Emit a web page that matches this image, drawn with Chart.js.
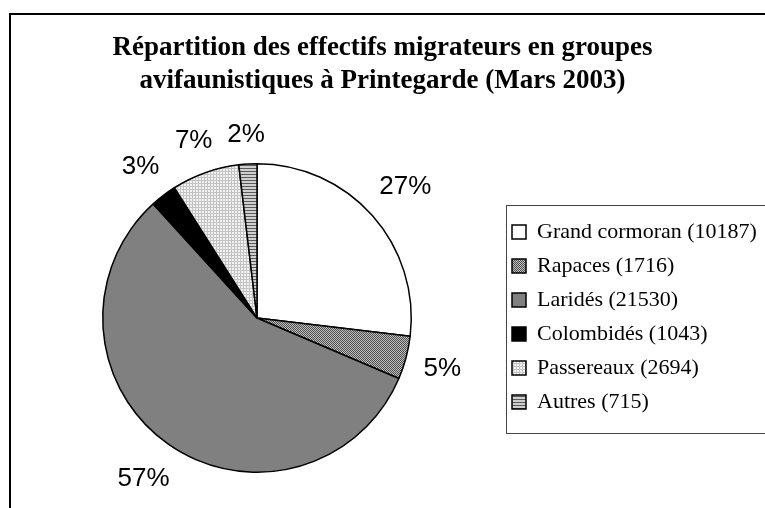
<!DOCTYPE html>
<html>
<head>
<meta charset="utf-8">
<script src="https://cdn.jsdelivr.net/npm/chart.js@4/dist/chart.umd.min.js"></script>
<style>
  html, body { margin: 0; padding: 0; background: #fff; }
  canvas { display: block; }
</style>
</head>
<body>
<canvas id="myChart" width="765" height="508"></canvas>
<script>
// Données
const groupes = ['Grand cormoran', 'Rapaces', 'Laridés', 'Colombidés', 'Passereaux', 'Autres'];
const effectifs = [10187, 1716, 21530, 1043, 2694, 715];
const titre = ['Répartition des effectifs migrateurs en groupes', 'avifaunistiques à Printegarde (Mars 2003)'];

// petits motifs de remplissage (comme dans Excel)
function makePattern(size, draw) {
    const c = document.createElement('canvas');
    c.width = size; c.height = size;
    const g = c.getContext('2d');
    draw(g);
    return document.getElementById('myChart').getContext('2d').createPattern(c, 'repeat');
}

const motifRapaces = makePattern(2, g => {
    g.fillStyle = '#bdbdbd'; g.fillRect(0, 0, 2, 2);
    g.fillStyle = '#505050'; g.fillRect(0, 0, 1, 1); g.fillRect(1, 1, 1, 1);
});
const motifPassereaux = makePattern(3, g => {
    g.fillStyle = '#f2f2f2'; g.fillRect(0, 0, 3, 3);
    g.fillStyle = '#c4c4c4'; g.fillRect(0, 0, 3, 1); g.fillRect(0, 0, 1, 3);
});
const motifAutres = makePattern(3, g => {
    g.fillStyle = '#cfcfcf'; g.fillRect(0, 0, 3, 3);
    g.fillStyle = '#5a5a5a'; g.fillRect(0, 0, 3, 1);
});

const couleurs = ['#ffffff', motifRapaces, '#808080', '#000000', motifPassereaux, motifAutres];

const total = effectifs.reduce((a, b) => a + b, 0);

// fond blanc + cadre extérieur + cadre de la légende
const cadrePlugin = {
    id: 'cadre',
    beforeDraw(chart) {
        const ctx = chart.ctx;
        ctx.save();
        ctx.fillStyle = '#fff';
        ctx.fillRect(0, 0, chart.width, chart.height);
        ctx.strokeStyle = '#000';
        ctx.lineWidth = 2;
        ctx.beginPath();
        ctx.moveTo(10, chart.height + 2);
        ctx.lineTo(10, 14);
        ctx.lineTo(chart.width + 2, 14);
        ctx.stroke();
        ctx.restore();
    },
    afterLayout(chart) {
        // place le camembert et la légende comme dans l'original
        chart.chartArea = { left: 102, top: 163, right: 412, bottom: 473, width: 310, height: 310 };
        const lg = chart.legend;
        const w = lg.width, h = lg.height;
        lg.left = 500; lg.top = 209;
        lg.right = lg.left + w; lg.bottom = lg.top + h;
    },
    afterDraw(chart) {
        const ctx = chart.ctx;
        ctx.save();
        ctx.strokeStyle = '#444';
        ctx.lineWidth = 1;
        ctx.strokeRect(506.5, 205.5, 300, 228);
        ctx.restore();
    }
};

// étiquettes de pourcentage à l'extérieur des parts
const pourcentPlugin = {
    id: 'pourcent',
    afterDatasetsDraw(chart) {
        const ctx = chart.ctx;
        const meta = chart.getDatasetMeta(0);
        ctx.save();
        ctx.font = '26px "Liberation Sans", Arial, sans-serif';
        ctx.fillStyle = '#000';
        ctx.textAlign = 'center';
        ctx.textBaseline = 'middle';
        meta.data.forEach((arc, i) => {
            const p = arc.getProps(['x', 'y', 'startAngle', 'endAngle', 'outerRadius'], true);
            const mid = (p.startAngle + p.endAngle) / 2;
            const txt = Math.round(effectifs[i] / total * 100) + '%';
            const w = ctx.measureText(txt).width;
            const ext = Math.abs(Math.cos(mid)) * w / 2 + Math.abs(Math.sin(mid)) * 13;
            const r = p.outerRadius + 16 + ext;
            ctx.fillText(txt, p.x + Math.cos(mid) * r, p.y + Math.sin(mid) * r + 1);
        });
        ctx.restore();
    }
};

Chart.defaults.color = '#000';

new Chart(document.getElementById('myChart').getContext('2d'), {
    type: 'pie',
    data: {
        labels: groupes.map((g, i) => g + ' (' + effectifs[i] + ')'),
        datasets: [{
            data: effectifs,
            backgroundColor: couleurs,
            borderColor: '#000',
            borderWidth: 1.5
        }]
    },
    options: {
        responsive: false,
        animation: false,
        devicePixelRatio: 1,
        plugins: {
            title: {
                display: true,
                text: titre,
                color: '#000',
                font: { family: '"Liberation Serif", "Times New Roman", serif', size: 27, weight: 'bold', lineHeight: 1.22 },
                padding: { top: 32, bottom: 10 }
            },
            legend: {
                position: 'right',
                align: 'start',
                labels: {
                    boxWidth: 14,
                    boxHeight: 14,
                    padding: 12,
                    color: '#000',
                    font: { family: '"Liberation Serif", "Times New Roman", serif', size: 22 }
                }
            },
            tooltip: { enabled: false }
        }
    },
    plugins: [cadrePlugin, pourcentPlugin]
});
</script>
</body>
</html>
